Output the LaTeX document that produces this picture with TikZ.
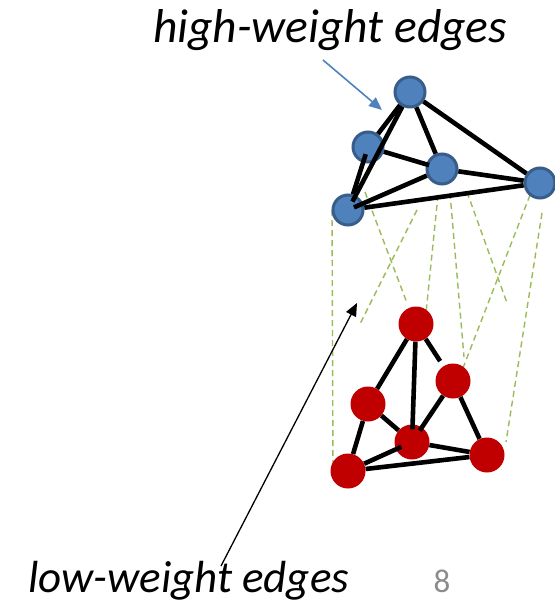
\documentclass[tikz,border=0pt]{standalone}
\usepackage{fontspec}
\setmainfont{Carlito}
\usetikzlibrary{arrows.meta}
\definecolor{bluefill}{HTML}{4F81BD}
\definecolor{blueedge}{HTML}{385D8A}
\definecolor{redfill}{HTML}{C00000}
\definecolor{lowgreen}{HTML}{9BBB59}
\definecolor{pagenum}{HTML}{8C8C8C}
\begin{document}
\begin{tikzpicture}[x=1pt,y=-1pt,
  bnode/.style={circle,fill=bluefill,draw=blueedge,line width=3pt,minimum size=30pt,inner sep=0pt},
  rnode/.style={circle,fill=redfill,minimum size=35pt,inner sep=0pt},
  hedge/.style={line width=4.6pt,black},
  ledge/.style={lowgreen,line width=1.4pt,dash pattern=on 6pt off 4pt},
  captext/.style={inner sep=0pt,anchor=base west},
  pointer/.style={line width=1.3pt,-{Triangle[length=13pt,width=11pt]}}]
\useasboundingbox (0,0) rectangle (554,602);
% low-weight (dashed) edges, behind everything
\coordinate (g1a) at (332,210); \coordinate (g1b) at (333,470);
\coordinate (g2a) at (365,192); \coordinate (g2b) at (407,303);
\coordinate (g3a) at (417,210); \coordinate (g3b) at (359,326);
\coordinate (g4a) at (438,195); \coordinate (g4b) at (426,313);
\coordinate (g5a) at (450,193); \coordinate (g5b) at (464,357);
\coordinate (g6a) at (467,192); \coordinate (g6b) at (507,303);
\coordinate (g7a) at (530,195); \coordinate (g7b) at (463,368);
\coordinate (g8a) at (542,213); \coordinate (g8b) at (506,442);
\foreach \i in {1,...,8} {\draw[ledge] (g\i a) -- (g\i b);}
% blue nodes
\node[bnode] (b1) at (410,92) {};
\node[bnode] (b2) at (368,147) {};
\node[bnode] (b3) at (442,169) {};
\node[bnode] (b4) at (540,183) {};
\node[bnode] (b5) at (348,210) {};
% red nodes
\node[rnode] (r1) at (416,324) {};
\node[rnode] (r2) at (453,381) {};
\node[rnode] (r3) at (368,404) {};
\node[rnode] (r4) at (412,442) {};
\node[rnode] (r5) at (487,455) {};
\node[rnode] (r6) at (348,471) {};
% high-weight edges
\draw[hedge] (b1) -- (b2);
\draw[hedge,shorten >=-7pt] (b1) -- (b5);
\draw[hedge] (b1) -- (b3);
\draw[hedge] (b1) -- (b4);
\draw[hedge,shorten >=-3pt] (b2) -- (b3);
\draw[hedge,shorten <=-9pt] (b2) -- (b5);
\draw[hedge,shorten >=-10pt] (b3) -- (b5);
\draw[hedge] (b3) -- (b4);
\draw[hedge] (b5) -- (b4);
\draw[hedge] (r1) -- (r3);
\draw[hedge,shorten >=-5pt] (r1) -- (r4);
\draw[hedge,shorten >=6pt] (r1) -- (r2);
\draw[hedge,shorten >=-4pt] (r2) -- (r4);
\draw[hedge] (r2) -- (r5);
\draw[hedge] (r3) -- (r4);
\draw[hedge] (r3) -- (r6);
\draw[hedge,shorten <=-6pt] (r4) -- (r6);
\draw[hedge] (r4) -- (r5);
\draw[hedge] (r6) -- (r5);
% labels
\node[captext,font=\fontsize{47.5}{50}\selectfont\itshape] (hw) at (153,43) {high-weight edges};
\node[captext,font=\fontsize{45}{50}\selectfont\itshape] (lw) at (28,592) {low-weight edges};
\node[font=\fontsize{33}{35}\selectfont,text=pagenum,inner sep=0pt,anchor=base] (pg) at (442,592) {8};
% pointers
\coordinate (hwtail) at (323,60); \coordinate (hwtip) at (382,110);
\draw[pointer,bluefill,line width=1.6pt] (hwtail) -- (hwtip);
\coordinate (lwtail) at (221,566); \coordinate (lwtip) at (357,303);
\draw[pointer,black] (lwtail) -- (lwtip);
\end{tikzpicture}
\end{document}
